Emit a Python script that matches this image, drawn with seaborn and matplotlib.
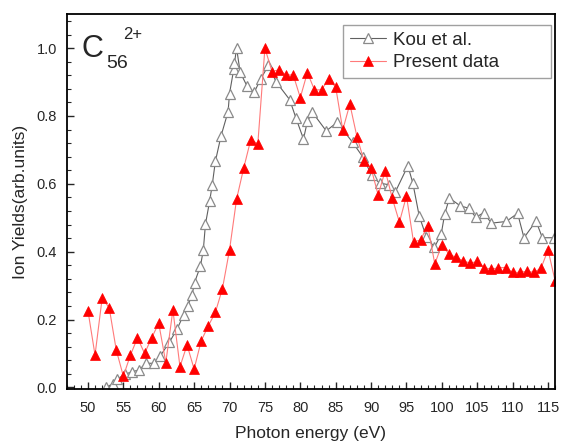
import numpy as np
import pandas as pd
import matplotlib
matplotlib.use("Agg")
import matplotlib.pyplot as plt
from matplotlib.ticker import MultipleLocator
import seaborn as sns

# Present data (red filled triangles), 1 eV steps
present_energy = list(range(50, 117))
present_yield = [
    0.226, 0.095, 0.262, 0.235, 0.110, 0.033, 0.095, 0.146, 0.100, 0.146,   # 50-59
    0.189, 0.073, 0.228, 0.061, 0.125, 0.054, 0.137, 0.181, 0.221, 0.291,   # 60-69
    0.405, 0.555, 0.646, 0.730, 0.718, 1.000, 0.931, 0.936, 0.921, 0.921,   # 70-79
    0.854, 0.928, 0.877, 0.877, 0.909, 0.885, 0.759, 0.835, 0.739, 0.668,   # 80-89
    0.646, 0.567, 0.639, 0.557, 0.487, 0.564, 0.428, 0.435, 0.477, 0.364,   # 90-99
    0.420, 0.393, 0.383, 0.373, 0.366, 0.371, 0.353, 0.348, 0.353, 0.353,   # 100-109
    0.339, 0.339, 0.342, 0.339, 0.351, 0.405, 0.314,                        # 110-116
]

# Kou et al. (grey open triangles)
kou_energy = [
    52.5, 53.5, 54.1, 55.2, 56.2, 57.2, 58.2, 59.4, 60.2, 61.5,
    62.6, 63.5, 64.1, 64.7, 65.06, 65.9, 66.3, 66.6, 67.2, 67.56,
    68.0, 68.8, 69.8, 70.0, 70.6, 70.7, 71.0, 71.5, 72.5, 73.5,
    74.4, 75.5, 76.6, 78.5, 79.4, 80.45, 81.0, 81.7, 83.66, 85.2,
    87.4, 88.8, 90.1, 91.2, 92.6, 93.4, 95.2, 95.9, 96.8, 97.8,
    98.95, 99.9, 100.4, 101.07, 102.6, 103.8, 104.8, 105.9, 107.0, 109.1,
    110.7, 111.6, 113.3, 114.2, 115.9,
]
kou_yield = [
    0.000, 0.010, 0.024, 0.038, 0.046, 0.051, 0.071, 0.071, 0.092, 0.133,
    0.172, 0.213, 0.240, 0.272, 0.309, 0.358, 0.405, 0.481, 0.550, 0.597,
    0.666, 0.741, 0.813, 0.866, 0.938, 0.956, 1.000, 0.929, 0.887, 0.870,
    0.909, 0.949, 0.900, 0.848, 0.793, 0.732, 0.784, 0.811, 0.756, 0.781,
    0.722, 0.680, 0.625, 0.602, 0.597, 0.575, 0.653, 0.602, 0.505, 0.444,
    0.413, 0.451, 0.511, 0.558, 0.535, 0.528, 0.501, 0.515, 0.484, 0.489,
    0.513, 0.441, 0.490, 0.441, 0.441,
]

x_ticks = list(range(50, 120, 5))
y_ticks = [0.0, 0.2, 0.4, 0.6, 0.8, 1.0]

sns.set_style("ticks")
plt.rcParams['font.family'] = ['Liberation Sans', 'DejaVu Sans']

fig = plt.figure(figsize=(5.63, 4.43), dpi=100)
ax = fig.add_axes([0.1185, 0.121, 0.8675, 0.847])

kou = pd.DataFrame({'energy': kou_energy, 'yield': kou_yield})
present = pd.DataFrame({'energy': present_energy, 'yield': present_yield})

sns.lineplot(data=kou, x='energy', y='yield', ax=ax, estimator=None, sort=False,
             color='#606060', linewidth=0.8, marker='^', markersize=6.5,
             markerfacecolor='white', markeredgecolor='#8a8a8a',
             markeredgewidth=0.9, label='Kou et al.')
sns.lineplot(data=present, x='energy', y='yield', ax=ax, estimator=None, sort=False,
             color='#ff7a7a', linewidth=0.8, marker='^', markersize=6.5,
             markerfacecolor='#ff0000', markeredgecolor='#ff0000',
             markeredgewidth=0.5, label='Present data')

ax.set_xlim(47, 116)
ax.set_ylim(-0.006, 1.10)
ax.set_xticks(x_ticks)
ax.set_yticks(y_ticks)
ax.xaxis.set_minor_locator(MultipleLocator(1))
ax.yaxis.set_minor_locator(MultipleLocator(0.04))
ax.tick_params(which='major', direction='in', length=5, width=1.0,
               labelsize=10.5, top=False, right=False)
ax.tick_params(axis='x', which='major', pad=8)
ax.tick_params(axis='y', which='major', pad=7)
ax.tick_params(which='minor', direction='in', length=3, width=0.8,
               top=False, right=False)
for s in ax.spines.values():
    s.set_linewidth(1.3)
    s.set_color('black')

ax.set_xlabel('Photon energy (eV)', fontsize=12.5, labelpad=8)
ax.set_ylabel('Ion Yields(arb.units)', fontsize=12.5, labelpad=6)

# species label C56(2+) built from three pieces, as in the original figure
ax.text(0.031, 0.886, 'C', transform=ax.transAxes, fontsize=22, va='baseline', ha='left')
ax.text(0.081, 0.857, '56', transform=ax.transAxes, fontsize=14, va='baseline', ha='left')
ax.text(0.116, 0.934, '2+', transform=ax.transAxes, fontsize=12, va='baseline', ha='left')

leg = ax.legend(loc='upper left', bbox_to_anchor=(0.566, 0.0, 0.426, 0.971),
                mode='expand', borderaxespad=0, fontsize=13.5, frameon=True,
                fancybox=False, handlelength=1.95, handletextpad=0.35,
                borderpad=0.35, labelspacing=0.3)
leg.get_frame().set_edgecolor('#888888')
leg.get_frame().set_linewidth(1.0)

fig.savefig('out.png', dpi=100, facecolor='white')
